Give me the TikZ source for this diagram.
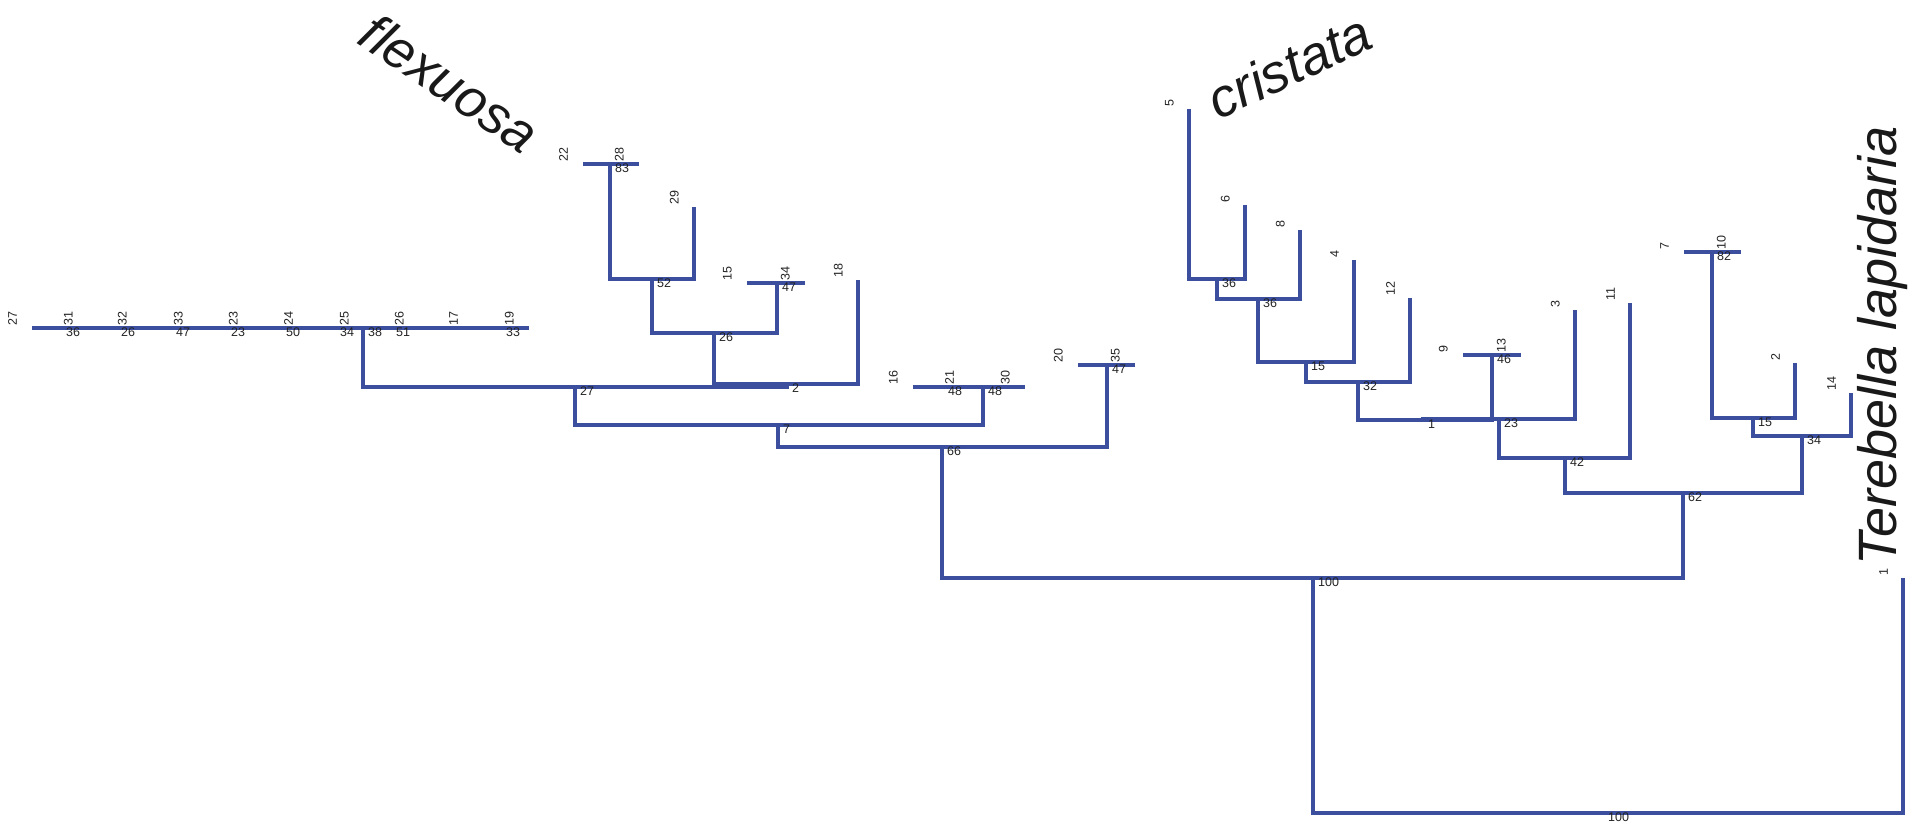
\documentclass[tikz,border=0pt]{standalone}
\usepackage{fontspec}
\setmainfont{Liberation Sans}
\usetikzlibrary{
  calc,
  backgrounds,
}

\definecolor{treeblue}{RGB}{59,79,158}
\definecolor{labgray}{RGB}{35,35,35}

\tikzset{
  branch/.style={draw=treeblue, line width=3.3pt},
  leaflab/.style={rotate=90, anchor=south west, inner sep=0pt, text=labgray,
      font=\fontsize{12.5}{12.5}\selectfont},
  suplab/.style={anchor=north west, inner sep=0pt, text=labgray,
      font=\fontsize{12.5}{12.5}\selectfont},
  taxon/.style={inner sep=0pt, text=black!90,
      font=\fontsize{54}{54}\selectfont\itshape},
}

\begin{document}
\begin{tikzpicture}[x=1pt,y=-1pt]
  \useasboundingbox (0,0) rectangle (1915,823);

  \foreach \n/\x/\y in {27/32/328, 31/88/328, 32/142/328, 33/198/328, 23/253/328,
      24/308/328, 25/364/328, 26/419/328, 17/473/328, 19/529/328,
      22/583/164, 28/639/164, 29/694/207, 15/747/283, 34/805/283, 18/858/280,
      16/913/387, 21/969/387, 30/1025/387, 20/1078/365, 35/1135/365,
      5/1189/109, 6/1245/205, 8/1300/230, 4/1354/260, 12/1410/298,
      9/1463/355, 13/1521/355, 3/1575/310, 11/1630/303,
      7/1684/252, 10/1741/252, 2/1795/363, 14/1851/393, 1/1903/578}{
      \coordinate (t\n) at (\x,\y);
      \node[leaflab] (lt\n) at (\x-15,\y-2) {\n};
    }

  \foreach \n/\x/\y/\s in {p36/61/328/36, p26/116/328/26, p47/171/328/47,
      p23/226/328/23, p50/281/328/50, p34/335/328/34, n38/363/328/38,
      p51/391/328/51, p33/501/328/33,
      n83/610/164/83, n52/652/279/52, n47a/777/283/47, n26/714/333/26,
      n2/787/384/2, n27/575/387/27, q48/943/387/48, n48/983/387/48,
      n7/778/425/7, n47b/1107/365/47, n66/942/447/66, n100/1313/578/100,
      root/1603/813/100,
      n36a/1217/279/36, n36b/1258/299/36, n15a/1306/362/15, n32/1358/382/32,
      n46/1492/355/46, n1/1423/420/1, n23/1499/419/23, n42/1565/458/42,
      n82/1712/252/82, n15b/1753/418/15, n34/1802/436/34, n62/1683/493/62}{
      \coordinate (\n) at (\x,\y);
      \node[suplab] (l\n) at (\x+5,\y) {\s};
    }

  \begin{scope}[on background layer]
    \foreach \a/\b in {t27/t19, t22/t28, t15/t34, t16/t30, t20/t35, t9/t13, t7/t10}{
        \draw[branch] (\a) -- (\b);
      }

    \foreach \a/\p/\b in {n83/n52/t29, n52/n26/n47a, n26/n2/t18, n38/n27/n2,
        n27/n7/n48, n7/n66/n47b, n66/n100/n62, n100/root/t1,
        t5/n36a/t6, n36a/n36b/t8, n36b/n15a/t4, n15a/n32/t12, n32/n1/n46,
        n1/n23/t3, n23/n42/t11, n42/n62/n34,
        n82/n15b/t2, n15b/n34/t14}{
        \draw[branch] (\a) |- (\p) -| (\b);
      }
  \end{scope}

  \node[taxon, rotate=-34] (flex) at (450,83) {flexuosa};
  \node[taxon, rotate=25] (crist) at (1289,66) {cristata};
  \node[taxon, rotate=90] (tere) at (1883,346) {Terebella lapidaria};
\end{tikzpicture}
\end{document}
